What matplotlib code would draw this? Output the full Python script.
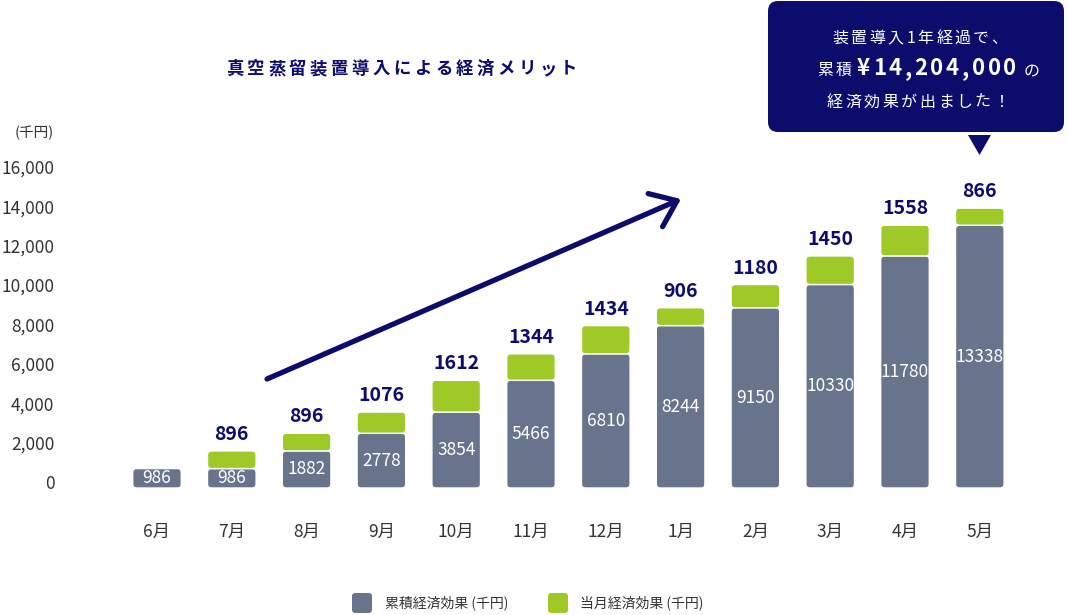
import matplotlib
matplotlib.use('Agg')
import matplotlib.pyplot as plt
from matplotlib.patches import FancyBboxPatch, Polygon
from matplotlib.font_manager import FontProperties
from matplotlib.textpath import TextToPath
from matplotlib.transforms import ScaledTranslation

plt.rcParams['font.family'] = ['Noto Sans CJK JP', 'DejaVu Sans']

# ---------------- data ----------------
months = ['6月', '7月', '8月', '9月', '10月', '11月', '12月', '1月', '2月', '3月', '4月', '5月']
cumulative = [986, 986, 1882, 2778, 3854, 5466, 6810, 8244, 9150, 10330, 11780, 13338]
monthly = [0, 896, 896, 1076, 1612, 1344, 1434, 906, 1180, 1450, 1558, 866]
y_ticks = [0, 2000, 4000, 6000, 8000, 10000, 12000, 14000, 16000]
title = '真空蒸留装置導入による経済メリット'
legend_labels = ['累積経済効果 (千円)', '当月経済効果 (千円)']
unit_label = '(千円)'
callout_line1 = '装置導入1年経過で、'
callout_pre = '累積'
callout_amount = '¥14,204,000'
callout_post = 'の'
callout_line3 = '経済効果が出ました！'

# ---------------- style ----------------
GRAY = '#68748c'
GREEN = '#9fc926'
NAVY = '#0b0c6b'
TEXT = '#333333'
W, H, DPI = 1068, 615, 100
PXY = 0.0197          # pixels per data unit (y)
PXX = 74.8            # pixels per category
BASE = 488            # pixel row of y=0
YMAX = 17000

fig = plt.figure(figsize=(W / DPI, H / DPI), dpi=DPI)
left_px = 157 - PXX / 2
top_px = BASE - YMAX * PXY
ax = fig.add_axes([left_px / W, (H - BASE) / H, 12 * PXX / W, (BASE - top_px) / H])
ax.set_xlim(-0.5, 11.5)
ax.set_ylim(0, YMAX)
for s in ax.spines.values():
    s.set_visible(False)

x = list(range(len(months)))
bw = 0.65
gray_bars = ax.bar(x, cumulative, width=bw, color=GRAY)
green_bars = ax.bar(x, monthly, width=bw, bottom=cumulative, color=GREEN)

rx = 4 / PXX
ry = 4 / PXY


def round_bars(bars, color):
    for b in bars:
        x0, y0 = b.get_xy()
        w, h = b.get_width(), b.get_height()
        b.remove()
        if h <= 0:
            continue
        p = FancyBboxPatch((x0, y0), w, h,
                           boxstyle=f'round,pad=0,rounding_size={rx}',
                           mutation_aspect=ry / rx, fc=color, ec='white', lw=1.0)
        ax.add_patch(p)


round_bars(gray_bars, GRAY)
round_bars(green_bars, GREEN)

for i, (c, m) in enumerate(zip(cumulative, monthly)):
    ax.text(i, c / 2, str(c), ha='center', va='center', color='white', fontsize=12.5)
    if m > 0:
        ax.annotate(str(m), (i, c + m), xytext=(0, 5), textcoords='offset points',
                    ha='center', va='bottom', fontsize=14, fontweight='bold', color=NAVY)

ax.set_yticks(y_ticks)
ax.set_yticklabels([f'{v:,}' for v in y_ticks], fontsize=12.5, color=TEXT)
ax.tick_params(axis='y', length=0, pad=47)
shift = ScaledTranslation(0, 6 / DPI, fig.dpi_scale_trans)
for lab in ax.get_yticklabels():
    lab.set_transform(lab.get_transform() + shift)

ax.set_xticks(x)
ax.set_xticklabels(months, fontsize=12.5, color=TEXT)
ax.tick_params(axis='x', length=0, pad=25)

# ---------------- overlay (pixel coordinates) ----------------
ov = fig.add_axes([0, 0, 1, 1])
ov.set_xlim(0, W)
ov.set_ylim(H, 0)
ov.axis('off')

ttp = TextToPath()


def char_widths(s, fp):
    return [ttp.get_text_width_height_descent(c, fp, ismath=False)[0] * DPI / 72 for c in s]


def spaced(s, x0, y, size, spacing, weight='normal', ha='center', color='white'):
    fp = FontProperties(family='Noto Sans CJK JP', size=size, weight=weight)
    ws = char_widths(s, fp)
    total = sum(ws) + spacing * (len(s) - 1)
    if ha == 'center':
        xx = x0 - total / 2
    elif ha == 'right':
        xx = x0 - total
    else:
        xx = x0
    for c, w in zip(s, ws):
        ov.text(xx, y, c, fontproperties=fp, ha='left', va='baseline', color=color)
        xx += w + spacing
    return total


spaced(title, 402, 74, 12.5, 3.5, weight='bold', color=NAVY)
ov.text(34, 133, unit_label, ha='center', va='center', fontsize=10.5, color=TEXT)

# arrow
ov.annotate('', xy=(681, 199), xytext=(267, 379),
            arrowprops=dict(arrowstyle='->,head_length=1.7,head_width=1.3',
                            lw=3.8, color=NAVY, shrinkA=0, shrinkB=0))

# callout
ov.add_patch(FancyBboxPatch((768, 1), 296, 131, boxstyle='round,pad=0,rounding_size=10',
                            fc=NAVY, ec='none'))
ov.add_patch(Polygon([(968, 135), (991, 135), (979.5, 155)], closed=True, fc=NAVY, ec='none'))

spaced(callout_line1, 920, 43, 11.5, 2.5)
spaced(callout_pre, 852, 75, 11.5, 2.5, ha='right')
spaced(callout_amount, 857, 75, 16, 2.7, weight='bold', ha='left')
spaced(callout_post, 1024, 75, 11.5, 0, ha='left')
spaced(callout_line3, 918, 107, 11.5, 2.5)

# legend
for sx, tx, col, lab in [(352, 385, GRAY, legend_labels[0]), (548, 580, GREEN, legend_labels[1])]:
    ov.add_patch(FancyBboxPatch((sx, 593), 20, 20, boxstyle='round,pad=0,rounding_size=3',
                                fc=col, ec='none'))
    ov.text(tx, 603, lab, ha='left', va='center', fontsize=10, color=TEXT)

fig.savefig('out.png', dpi=DPI)
